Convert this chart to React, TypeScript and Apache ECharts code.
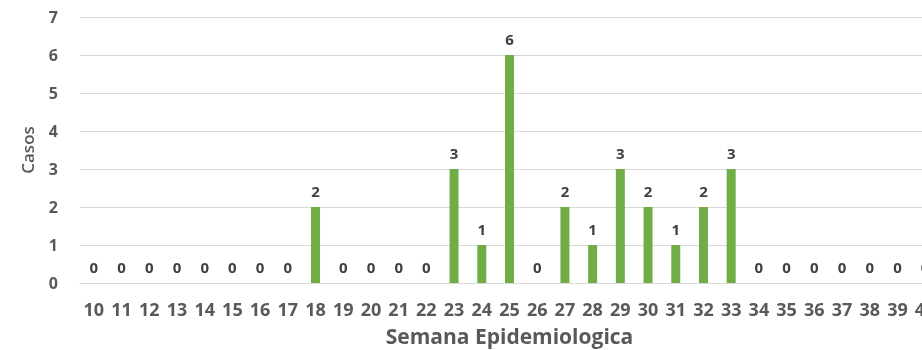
import React, { useEffect, useRef } from "react";
import * as echarts from "echarts";

const weeks = ["10","11","12","13","14","15","16","17","18","19","20","21","22","23","24","25","26","27","28","29","30","31","32","33","34","35","36","37","38","39","40"];
const cases = [0,0,0,0,0,0,0,0,2,0,0,0,0,3,1,6,0,2,1,3,2,1,2,3,0,0,0,0,0,0,0];

export default function App() {
  const ref = useRef<HTMLDivElement>(null);
  useEffect(() => {
    const chart = echarts.init(ref.current!, null, { renderer: "svg" });
    const font = "'Open Sans', 'DejaVu Sans', sans-serif";
    chart.setOption({
      animation: false,
      grid: { left: 80, top: 17, width: 859, height: 266, containLabel: false, outerBoundsMode: "none" },
      xAxis: {
        type: "category",
        data: weeks,
        axisTick: { show: false },
        axisLine: { lineStyle: { color: "#d9d9d9", width: 1 } },
        axisLabel: { color: "#595959", fontFamily: font, fontWeight: "bold", fontSize: 18, margin: 17, interval: 0 },
        name: "Semana Epidemiologica",
        nameLocation: "middle",
        nameGap: 42,
        nameTextStyle: { color: "#595959", fontFamily: font, fontWeight: "bold", fontSize: 21 },
      },
      yAxis: {
        type: "value",
        min: 0,
        max: 7,
        interval: 1,
        axisLine: { show: false },
        axisTick: { show: false },
        splitLine: { lineStyle: { color: "#d9d9d9", width: 1 } },
        axisLabel: { color: "#595959", fontFamily: font, fontWeight: "bold", fontSize: 16, margin: 22 },
        name: "Casos",
        nameLocation: "middle",
        nameGap: 44,
        nameTextStyle: { color: "#595959", fontFamily: font, fontWeight: 600, fontSize: 17 },
      },
      series: [
        {
          type: "bar",
          data: cases,
          barWidth: 9,
          itemStyle: { color: "#70AD47" },
          label: {
            show: true,
            position: "top",
            distance: 9,
            color: "#404040",
            fontFamily: font,
            fontWeight: "bold",
            fontSize: 15,
          },
        },
      ],
    });
    return () => chart.dispose();
  }, []);
  return (
    <div style={{ position: "fixed", left: 0, top: 0, width: 922, height: 350, overflow: "hidden" }}>
      <div ref={ref} style={{ width: 945, height: 350 }} />
    </div>
  );
}
